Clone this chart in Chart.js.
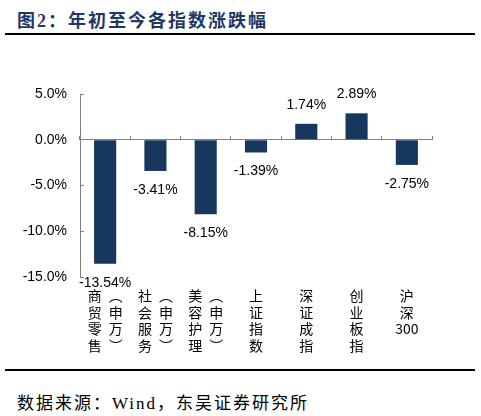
<!DOCTYPE html>
<html>
<head>
<meta charset="utf-8">
<script src="https://cdn.jsdelivr.net/npm/chart.js@4.4.1/dist/chart.umd.min.js"></script>
<style>
html,body{margin:0;padding:0;background:#fff;width:481px;height:416px;overflow:hidden;}
#title{position:absolute;left:17px;top:6px;font-weight:bold;font-size:18px;font-family:"Liberation Serif","Noto Sans CJK SC",serif;color:#1F3864;letter-spacing:2px;white-space:nowrap;}
#rule1{position:absolute;left:5px;top:33px;width:470px;height:2px;background:#000;}
#wrap{position:absolute;left:0;top:40px;width:481px;height:325px;}
#rule2{position:absolute;left:5px;top:369px;width:470px;height:2px;background:#000;}
#src{position:absolute;left:17px;top:389px;font-size:17px;font-family:"Liberation Serif","Noto Sans CJK SC",serif;color:#000;letter-spacing:2px;white-space:nowrap;}
</style>
</head>
<body>
<div id="title">图2：年初至今各指数涨跌幅</div>
<div id="rule1"></div>
<div id="wrap"><canvas id="c"></canvas></div>
<div id="rule2"></div>
<div id="src">数据来源：Wind，东吴证券研究所</div>
<script>
const categories = ["商贸零售(申万)", "社会服务(申万)", "美容护理(申万)", "上证指数", "深证成指", "创业板指", "沪深300"];
const values = [-13.54, -3.41, -8.15, -1.39, 1.74, 2.89, -2.75];
const yTicks = [5, 0, -5, -10, -15];

const BAR = '#17375E';
const AXIS = '#808080';

function verticalLines(s) {
  const m = s.match(/^(.*?)\((.*)\)$/);
  if (m) {
    const a = [...m[1]];
    const b = ['︵', ...m[2], '︶'];
    const n = Math.max(a.length, b.length);
    const out = [];
    for (let i = 0; i < n; i++) out.push((a[i] || '\u3000') + '\u2002' + (b[i] || '\u3000'));
    return out;
  }
  return s.match(/[0-9]+|./g);
}

function pct(v, d) { return v.toFixed(d) + '%'; }

const valueLabels = {
  id: 'valueLabels',
  afterDatasetsDraw(chart) {
    const ctx = chart.ctx;
    const meta = chart.getDatasetMeta(0);
    ctx.save();
    ctx.font = '14px "Liberation Sans", Arial, sans-serif';
    ctx.fillStyle = '#000';
    ctx.textAlign = 'center';
    ctx.textBaseline = 'middle';
    meta.data.forEach((bar, i) => {
      const v = values[i];
      const y = v >= 0 ? bar.y - 19 : bar.y + 19;
      ctx.fillText(pct(v, 2), bar.x, y);
    });
    ctx.restore();
  }
};

new Chart(document.getElementById('c'), {
  type: 'bar',
  data: {
    labels: categories,
    datasets: [{
      data: values,
      backgroundColor: BAR,
      borderWidth: 0,
      barPercentage: 0.44,
      categoryPercentage: 1.0
    }]
  },
  options: {
    responsive: true,
    maintainAspectRatio: false,
    animation: false,
    layout: { padding: { top: 54, right: 49, left: 0, bottom: 0 } },
    plugins: { legend: { display: false }, tooltip: { enabled: false }, title: { display: false } },
    scales: {
      x: {
        type: 'category',
        position: 'bottom',
        offset: true,
        border: { display: false },
        grid: { display: false, drawTicks: false },
        afterFit(scale) { scale.height = 88; },
        ticks: {
          autoSkip: false,
          maxRotation: 0,
          minRotation: 0,
          padding: 10,
          color: '#000',
          font: { family: '"Noto Sans CJK SC", sans-serif', size: 14, lineHeight: 1.2 },
          callback(value) { return verticalLines(this.getLabelForValue(value)); }
        }
      },
      x2: {
        type: 'category',
        position: { y: 0 },
        offset: true,
        border: { display: true, color: AXIS, width: 1 },
        grid: { display: true, offset: true, drawOnChartArea: false, drawTicks: true, tickLength: -4, color: AXIS, lineWidth: 1 },
        ticks: { display: false }
      },
      y: {
        min: -15,
        max: 5,
        position: 'left',
        afterFit(scale) { scale.width = 80; },
        afterBuildTicks(scale) { scale.ticks = yTicks.map(v => ({ value: v })); },
        border: { display: true, color: AXIS, width: 1 },
        grid: { drawOnChartArea: false, drawTicks: true, tickLength: -4, tickColor: AXIS, color: AXIS },
        ticks: {
          padding: 17,
          color: '#000',
          font: { family: '"Liberation Sans", Arial, sans-serif', size: 14 },
          callback(v) { return pct(v, 1); }
        }
      }
    }
  },
  plugins: [valueLabels]
});
</script>
</body>
</html>
